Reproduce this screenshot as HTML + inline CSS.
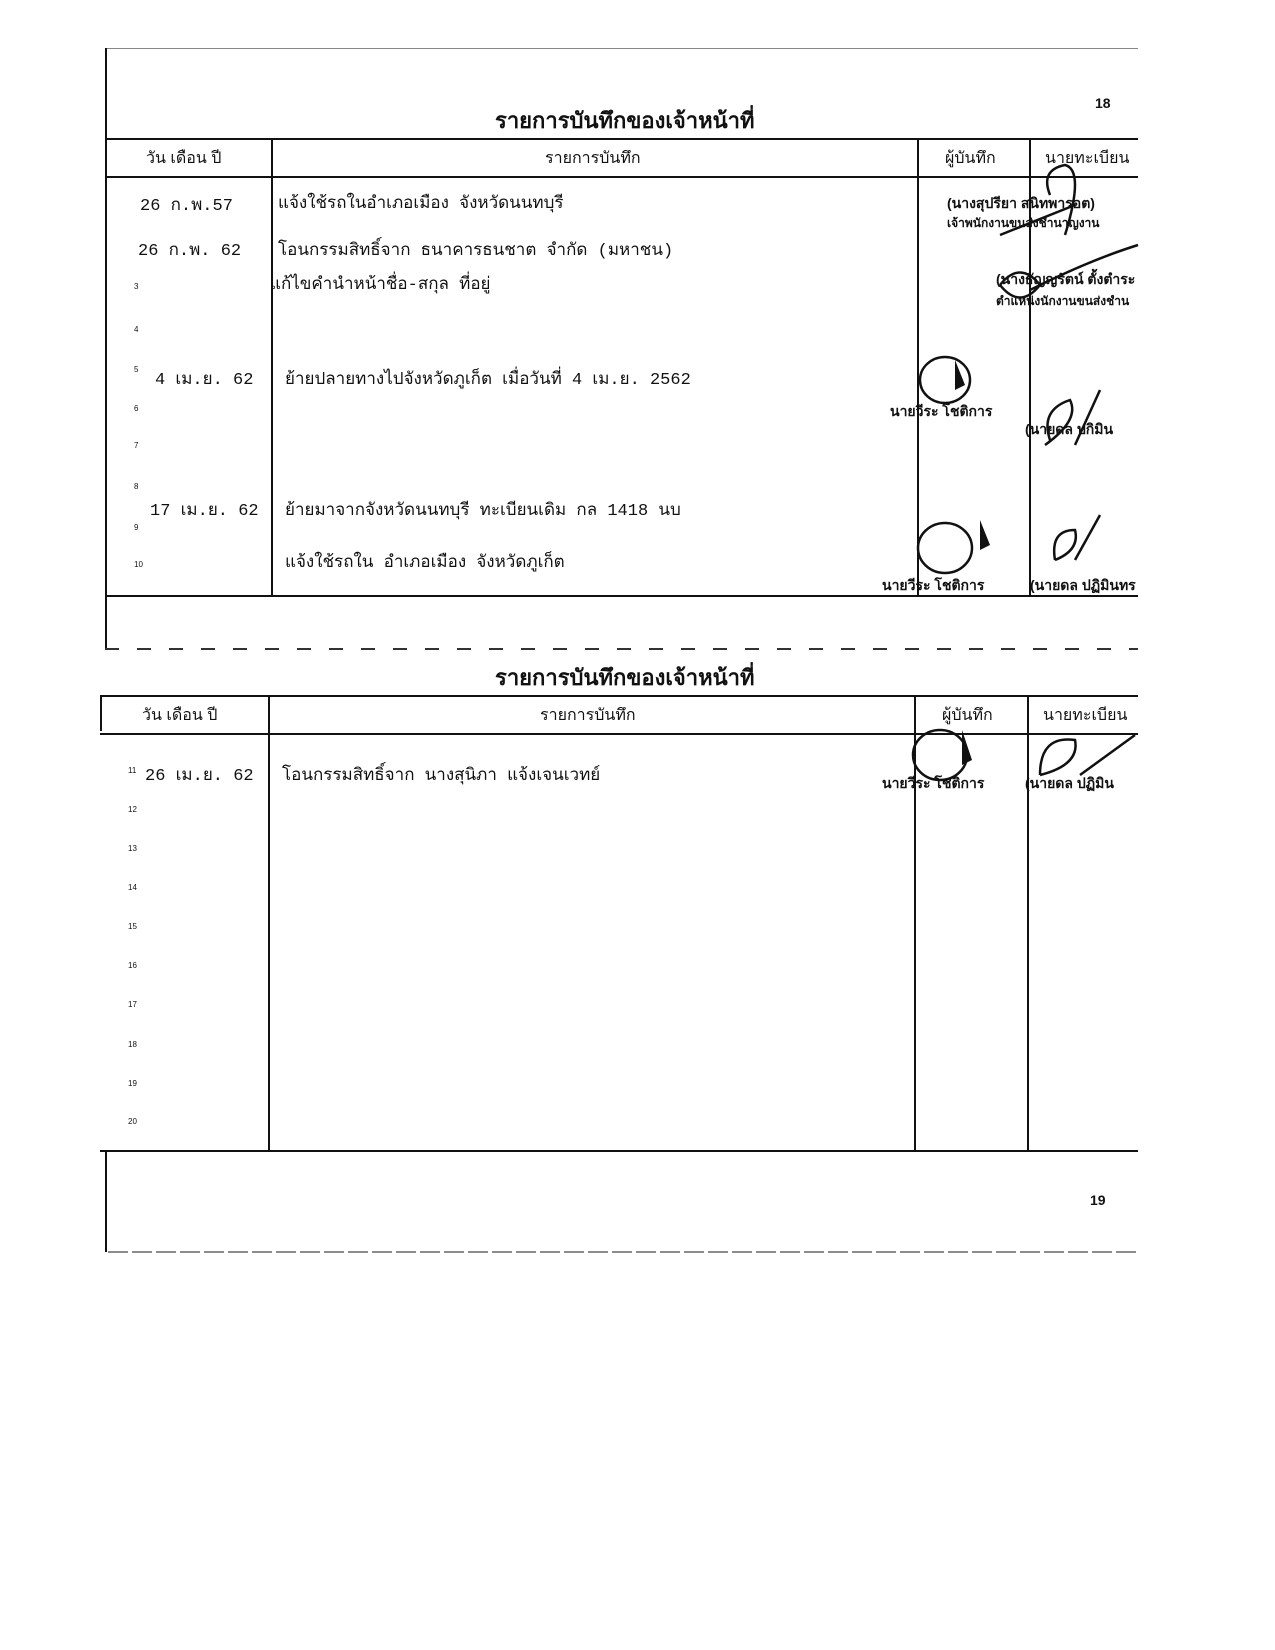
<!DOCTYPE html>
<html><head><meta charset="utf-8"><style>
body{margin:0;background:#fff;}
#p{position:relative;width:1275px;height:1650px;overflow:hidden;background:#fff;font-family:"Liberation Sans","DejaVu Sans",sans-serif;color:#111;}
.t{position:absolute;white-space:nowrap;line-height:1;}
.h{position:absolute;background:#111;}
.tw{font-family:"Liberation Mono","DejaVu Sans Mono","DejaVu Sans",monospace;font-size:17px;}
.n{font-size:8px;}
.title{font-weight:bold;font-size:22px;font-family:"Liberation Serif","DejaVu Serif",serif;}
.hd{font-size:16px;}
.sig{font-size:14px;font-weight:bold;}
</style></head><body><div id="p">
<!-- top frame -->
<div class="h" style="left:105px;top:48px;width:1033px;height:1px;background:#888"></div>
<div class="h" style="left:105px;top:48px;width:2px;height:600px"></div>
<div class="t" style="left:1095px;top:96px;font-size:14px;font-weight:bold">18</div>
<div class="t title" style="left:495px;top:110px">รายการบันทึกของเจ้าหน้าที่</div>
<!-- table 1 -->
<div class="h" style="left:105px;top:138px;width:1033px;height:2px"></div>
<div class="h" style="left:105px;top:176px;width:1033px;height:2px"></div>
<div class="h" style="left:105px;top:595px;width:1033px;height:2px"></div>
<div class="h" style="left:271px;top:138px;width:2px;height:458px"></div>
<div class="h" style="left:917px;top:138px;width:2px;height:458px"></div>
<div class="h" style="left:1029px;top:138px;width:2px;height:458px"></div>
<div class="t hd" style="left:146px;top:151px">วัน เดือน ปี</div>
<div class="t hd" style="left:545px;top:151px">รายการบันทึก</div>
<div class="t hd" style="left:945px;top:151px">ผู้บันทึก</div>
<div class="t hd" style="left:1045px;top:151px">นายทะเบียน</div>
<div class="t tw" style="left:140px;top:198px">26 ก.พ.57</div>
<div class="t tw" style="left:278px;top:196px">แจ้งใช้รถในอำเภอเมือง จังหวัดนนทบุรี</div>
<div class="t tw" style="left:138px;top:243px">26 ก.พ. 62</div>
<div class="t tw" style="left:278px;top:243px">โอนกรรมสิทธิ์จาก ธนาคารธนชาต จำกัด (มหาชน)</div>
<div class="t tw" style="left:270px;top:277px">แก้ไขคำนำหน้าชื่อ-สกุล ที่อยู่</div>
<div class="t tw" style="left:155px;top:372px">4 เม.ย. 62</div>
<div class="t tw" style="left:285px;top:372px">ย้ายปลายทางไปจังหวัดภูเก็ต เมื่อวันที่ 4 เม.ย. 2562</div>
<div class="t tw" style="left:150px;top:503px">17 เม.ย. 62</div>
<div class="t tw" style="left:285px;top:503px">ย้ายมาจากจังหวัดนนทบุรี ทะเบียนเดิม กล 1418 นบ</div>
<div class="t tw" style="left:285px;top:555px">แจ้งใช้รถใน อำเภอเมือง จังหวัดภูเก็ต</div>
<div class="t n" style="left:134px;top:283px">3</div>
<div class="t n" style="left:134px;top:326px">4</div>
<div class="t n" style="left:134px;top:366px">5</div>
<div class="t n" style="left:134px;top:405px">6</div>
<div class="t n" style="left:134px;top:442px">7</div>
<div class="t n" style="left:134px;top:483px">8</div>
<div class="t n" style="left:134px;top:524px">9</div>
<div class="t n" style="left:134px;top:561px">10</div>
<div class="t sig" style="left:947px;top:196px">(นางสุปรียา สนิทพารอต)</div>
<div class="t" style="left:947px;top:217px;font-size:12px;font-weight:bold">เจ้าพนักงานขนส่งชำนาญงาน</div>
<div class="t sig" style="left:996px;top:272px">(นางธัญญรัตน์ ตั้งตำระ</div>
<div class="t" style="left:996px;top:295px;font-size:12px;font-weight:bold">ตำแหน่งนักงานขนส่งชำน</div>
<div class="t sig" style="left:890px;top:404px">นายวีระ โชติการ</div>
<div class="t sig" style="left:1025px;top:422px">(นายดล ปกิมิน</div>
<div class="t sig" style="left:882px;top:578px">นายวีระ โชติการ</div>
<div class="t sig" style="left:1030px;top:578px">(นายดล ปฏิมินทร</div>
<svg style="position:absolute;left:0;top:0" width="1275" height="1650">
<g fill="none" stroke="#111" stroke-width="2.5">
<path d="M1050 195 q-10 -25 15 -30 q20 5 0 70 M1000 235 l75 -30"/>
<path d="M1000 285 q20 -25 40 0 q-20 25 -40 0 M1030 290 q60 -30 108 -45"/>
<ellipse cx="945" cy="380" rx="25" ry="23"/>
<ellipse cx="945" cy="548" rx="27" ry="25"/>
<ellipse cx="940" cy="755" rx="27" ry="25"/>
<path d="M1050 440 q-10 -30 20 -40 q10 20 -25 45 M1075 445 l25 -55"/>
<path d="M1055 560 q-5 -30 20 -30 q5 20 -20 30 M1075 560 l25 -45"/>
<path d="M1040 775 q0 -40 35 -35 q5 25 -35 35 M1080 775 l55 -40"/>
</g>
<g fill="#111"><path d="M955 360 l10 25 l-10 5z"/><path d="M980 520 l10 25 l-10 5z"/><path d="M962 730 l10 30 l-10 5z"/></g>
<line x1="105" y1="649" x2="1138" y2="649" stroke="#333" stroke-width="2" stroke-dasharray="14 18"/>
<line x1="108" y1="1252" x2="1138" y2="1252" stroke="#666" stroke-width="1.5" stroke-dasharray="20 4"/>
</svg>
<!-- table 2 -->
<div class="t title" style="left:495px;top:667px">รายการบันทึกของเจ้าหน้าที่</div>
<div class="h" style="left:100px;top:695px;width:1038px;height:2px"></div>
<div class="h" style="left:100px;top:733px;width:1038px;height:2px"></div>
<div class="h" style="left:100px;top:1150px;width:1038px;height:2px"></div>
<div class="h" style="left:100px;top:695px;width:2px;height:36px"></div>
<div class="h" style="left:268px;top:695px;width:2px;height:456px"></div>
<div class="h" style="left:914px;top:695px;width:2px;height:456px"></div>
<div class="h" style="left:1027px;top:695px;width:2px;height:456px"></div>
<div class="t hd" style="left:142px;top:708px">วัน เดือน ปี</div>
<div class="t hd" style="left:540px;top:708px">รายการบันทึก</div>
<div class="t hd" style="left:942px;top:708px">ผู้บันทึก</div>
<div class="t hd" style="left:1043px;top:708px">นายทะเบียน</div>
<div class="t tw" style="left:145px;top:768px">26 เม.ย. 62</div>
<div class="t tw" style="left:282px;top:768px">โอนกรรมสิทธิ์จาก นางสุนิภา แจ้งเจนเวทย์</div>
<div class="t sig" style="left:882px;top:776px">นายวีระ โชติการ</div>
<div class="t sig" style="left:1025px;top:776px">(นายดล ปฏิมิน</div>
<div class="t n" style="left:128px;top:767px">11</div>
<div class="t n" style="left:128px;top:806px">12</div>
<div class="t n" style="left:128px;top:845px">13</div>
<div class="t n" style="left:128px;top:884px">14</div>
<div class="t n" style="left:128px;top:923px">15</div>
<div class="t n" style="left:128px;top:962px">16</div>
<div class="t n" style="left:128px;top:1001px">17</div>
<div class="t n" style="left:128px;top:1041px">18</div>
<div class="t n" style="left:128px;top:1080px">19</div>
<div class="t n" style="left:128px;top:1118px">20</div>
<div class="h" style="left:105px;top:1152px;width:2px;height:100px"></div>
<div class="t" style="left:1090px;top:1193px;font-size:14px;font-weight:bold">19</div>
</div></body></html>
